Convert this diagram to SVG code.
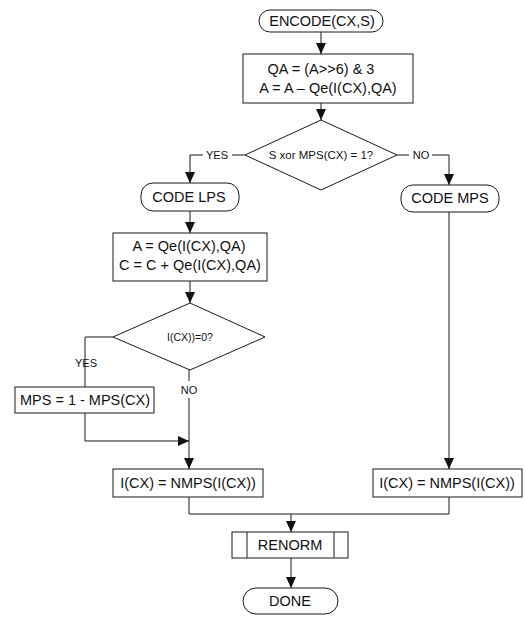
<svg xmlns="http://www.w3.org/2000/svg" width="525" height="617" viewBox="0 0 525 617">
<style>
.s{fill:#fff;stroke:#1a1a1a;stroke-width:1}
.t{font-family:"Liberation Sans",Arial,sans-serif;font-size:14.5px;fill:#111;text-anchor:middle}
.d{font-size:11.5px}
.l{font-family:"Liberation Sans",Arial,sans-serif;font-size:11px;fill:#111;text-anchor:middle}
.c{fill:none;stroke:#1a1a1a;stroke-width:1}
</style>
<defs>
<marker id="ah" markerUnits="userSpaceOnUse" markerWidth="11" markerHeight="11" refX="11" refY="5.5" orient="auto">
<path d="M0,0.5 L11,5.5 L0,10.5 Z" fill="#111"/>
</marker>
</defs>
<rect width="525" height="617" fill="#fff"/>
<g id="connectors">
<path class="c" d="M321,32 V54" marker-end="url(#ah)"/>
<path class="c" d="M321,103 V120" marker-end="url(#ah)"/>
<path class="c" d="M245,155 H232"/>
<path class="c" d="M203,155 H190 V183" marker-end="url(#ah)"/>
<path class="c" d="M397,155 H409"/>
<path class="c" d="M432,155 H449 V185" marker-end="url(#ah)"/>
<path class="c" d="M190,211 V233" marker-end="url(#ah)"/>
<path class="c" d="M190,281 V303" marker-end="url(#ah)"/>
<path class="c" d="M113,337 H85 V387"/>
<path class="c" d="M189,370 V381"/>
<path class="c" d="M189,398 V469" marker-end="url(#ah)"/>
<path class="c" d="M85,413 V441 H189" marker-end="url(#ah)"/>
<path class="c" d="M449,212 V469" marker-end="url(#ah)"/>
<path class="c" d="M189,497 V514 H449 V497"/>
<path class="c" d="M291,514 V532" marker-end="url(#ah)"/>
<path class="c" d="M291,558 V588" marker-end="url(#ah)"/>
<text class="l" x="217" y="159">YES</text>
<text class="l" x="421" y="159">NO</text>
<text class="l" x="86" y="367">YES</text>
<text class="l" x="189" y="394">NO</text>
</g>
<g id="encode">
<rect class="s" x="259" y="10" width="124" height="22" rx="11"/>
<text class="t" x="322" y="26">ENCODE(CX,S)</text>
</g>
<g id="qa">
<rect class="s" x="243" y="54" width="170" height="49"/>
<text class="t" x="321" y="74">QA = (A&gt;&gt;6) &amp; 3</text>
<text class="t" x="328" y="93">A = A – Qe(I(CX),QA)</text>
</g>
<g id="xor">
<polygon class="s" points="321,120 397,155 321,190 245,155"/>
<text class="t d" x="321" y="159">S xor MPS(CX) = 1?</text>
</g>
<g id="codelps">
<rect class="s" x="141" y="183" width="98" height="28" rx="12"/>
<text class="t" x="189" y="202">CODE LPS</text>
</g>
<g id="codemps">
<rect class="s" x="401" y="185" width="98" height="27" rx="12"/>
<text class="t" x="450" y="203">CODE MPS</text>
</g>
<g id="aqe">
<rect class="s" x="113" y="233" width="154" height="48"/>
<text class="t" x="189" y="251">A = Qe(I(CX),QA)</text>
<text class="t" x="190" y="270">C = C + Qe(I(CX),QA)</text>
</g>
<g id="icx0">
<polygon class="s" points="190,303 265,337 190,370 113,337"/>
<text class="t" style="font-size:10.5px" x="190" y="341">I(CX))=0?</text>
</g>
<g id="mps">
<rect class="s" x="15" y="387" width="139" height="26"/>
<text class="t" x="85" y="405">MPS = 1 - MPS(CX)</text>
</g>
<g id="nmps-left">
<rect class="s" x="113" y="469" width="150" height="28"/>
<text class="t" x="188" y="488">I(CX) = NMPS(I(CX))</text>
</g>
<g id="nmps-right">
<rect class="s" x="373" y="469" width="149" height="28"/>
<text class="t" x="447" y="488">I(CX) = NMPS(I(CX))</text>
</g>
<g id="renorm">
<rect class="s" x="232" y="532" width="116" height="26"/>
<line class="c" x1="247" y1="532" x2="247" y2="558"/>
<line class="c" x1="334" y1="532" x2="334" y2="558"/>
<text class="t" x="290" y="550">RENORM</text>
</g>
<g id="done">
<rect class="s" x="243" y="588" width="95" height="26" rx="13"/>
<text class="t" x="290" y="606">DONE</text>
</g>
</svg>
